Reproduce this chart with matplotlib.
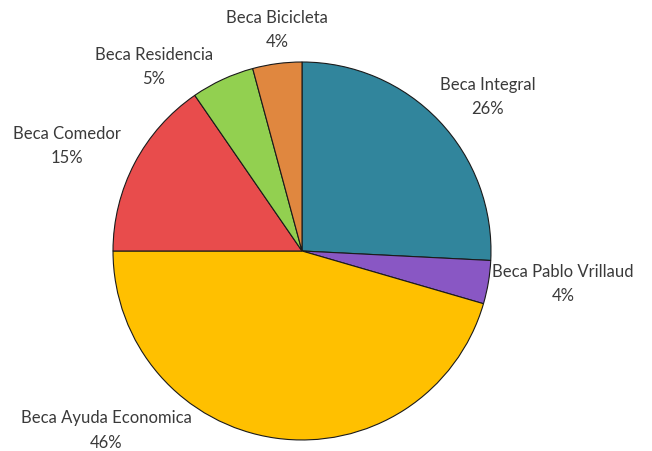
import matplotlib.pyplot as plt

labels = ['Beca Integral', 'Beca Pablo Vrillaud', 'Beca Ayuda Economica',
          'Beca Comedor', 'Beca Residencia', 'Beca Bicicleta']
shares = [25.8, 3.7, 45.5, 15.4, 5.4, 4.2]
colors = ['#31859c', '#8957c4', '#ffc000', '#e84c4c', '#92d050', '#e0873f']
# label centres in pie units (radius 1)
label_pos = [(0.984, 0.820), (1.381, -0.169), (-1.037, -0.945),
             (-1.243, 0.561), (-0.783, 0.979), (-0.132, 1.175)]

fig = plt.figure(figsize=(6.52, 4.52), dpi=100)
ax = fig.add_axes([0, 0, 1, 1])
ax.pie(shares, colors=colors, startangle=90, counterclock=False,
       wedgeprops=dict(edgecolor='#1a1a1a', linewidth=0.8))
ax.set_xlim(-1.598, 1.852)
ax.set_ylim(-1.058, 1.333)
ax.set_aspect('equal')
ax.axis('off')

total = sum(shares)
for lab, val, (x, y) in zip(labels, shares, label_pos):
    ax.text(x, y, '%s\n%.0f%%' % (lab, val / total * 100), ha='center', va='center',
            fontsize=12, family=['Lato', 'DejaVu Sans'], color='#3a3a3a', linespacing=1.65)

fig.savefig('out.png', dpi=100)
